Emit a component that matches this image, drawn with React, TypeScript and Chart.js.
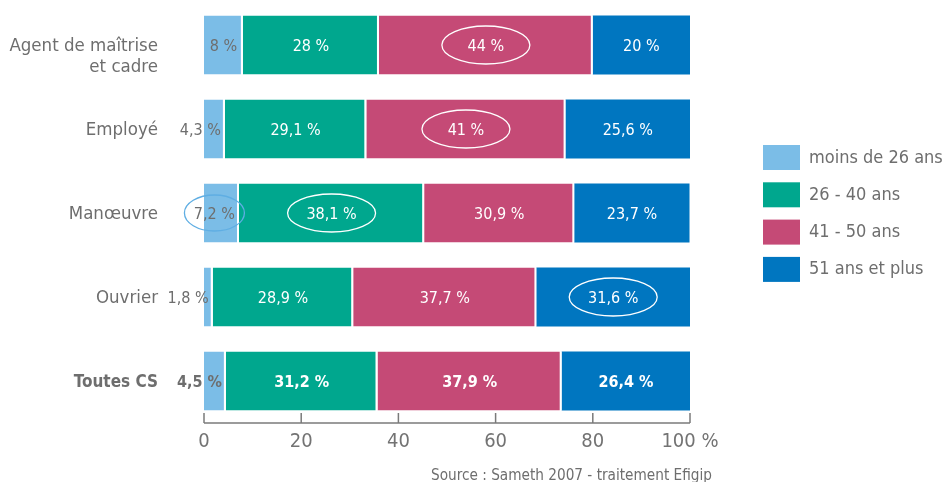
import React, { useEffect, useRef } from "react";
import { Chart, registerables } from "chart.js";
Chart.register(...registerables);

const categories: string[][] = [["Agent de maîtrise", "et cadre"], ["Employé"], ["Manœuvre"], ["Ouvrier"], ["Toutes CS"]];
const seriesNames = ["moins de 26 ans", "26 - 40 ans", "41 - 50 ans", "51 ans et plus"];
const moins26 = [8, 4.3, 7.2, 1.8, 4.5];
const de26a40 = [28, 29.1, 38.1, 28.9, 31.2];
const de41a50 = [44, 41, 30.9, 37.7, 37.9];
const plus51 = [20, 25.6, 23.7, 31.6, 26.4];
const xTicks = [0, 20, 40, 60, 80, 100];
const xTickLabels = ["0", "20", "40", "60", "80", "100 %"];
const highlighted: number[][] = [[0, 2], [1, 2], [2, 0], [2, 1], [3, 3]]; // [row, series]
const boldRow = 4;
const sourceText = "Source : Sameth 2007 - traitement Efigip";
const colors = ["#7BBDE7", "#00A78E", "#C54A76", "#0076C0"];

const FONT = "'DejaVu Sans Condensed', 'DejaVu Sans', sans-serif";
const GRAY = "#6e6e6e";

const fmt = (v: number) => String(v).replace(".", ",") + " %";

const overlay = {
  id: "overlay",
  afterDatasetsDraw(chart: any) {
    const ctx = chart.ctx as CanvasRenderingContext2D;
    const xs = chart.scales.x;
    const ys = chart.scales.y;
    const area = chart.chartArea;
    ctx.save();
    ctx.textBaseline = "alphabetic";
    // segment labels
    chart.data.datasets.forEach((ds: any, di: number) => {
      const meta = chart.getDatasetMeta(di);
      meta.data.forEach((el: any, i: number) => {
        const p = el.getProps(["x", "base", "y", "height"], true);
        const x0 = Math.min(p.x, p.base);
        const x1 = Math.max(p.x, p.base);
        const txt = fmt(ds.data[i]);
        ctx.font = (i === boldRow ? "bold " : "") + "16px " + FONT;
        const w = ctx.measureText(txt).width;
        let cx = (x0 + x1) / 2;
        if (w + 8 > x1 - x0) cx = x1 - 4 - w / 2;
        ctx.fillStyle = di === 0 ? GRAY : "#ffffff";
        ctx.textAlign = "center";
        ctx.fillText(txt, cx, p.y + 5.5);
        if (highlighted.some((h) => h[0] === i && h[1] === di)) {
          ctx.beginPath();
          ctx.ellipse(cx, p.y, di === 0 ? 30 : 44, di === 0 ? 18 : 19, 0, 0, Math.PI * 2);
          ctx.strokeStyle = di === 0 ? "#5FAEE3" : "#ffffff";
          ctx.lineWidth = 1.3;
          ctx.stroke();
        }
      });
    });
    // category labels
    ctx.fillStyle = GRAY;
    ctx.textAlign = "right";
    categories.forEach((lines, i) => {
      const y = ys.getPixelForValue(i);
      ctx.font = i === boldRow ? "bold 17px " + FONT : "18.5px " + FONT;
      lines.forEach((ln, k) => ctx.fillText(ln, 158, y + 6 + k * 21));
    });
    // x axis
    const yAxis = area.bottom;
    ctx.strokeStyle = "#7a7a7a";
    ctx.lineWidth = 1.5;
    ctx.beginPath();
    ctx.moveTo(xs.getPixelForValue(0), yAxis);
    ctx.lineTo(xs.getPixelForValue(100), yAxis);
    ctx.stroke();
    ctx.font = "20px " + FONT;
    ctx.fillStyle = "#737373";
    ctx.textAlign = "center";
    xTicks.forEach((t, k) => {
      const x = xs.getPixelForValue(t);
      ctx.beginPath();
      ctx.moveTo(x, yAxis);
      ctx.lineTo(x, yAxis - 10);
      ctx.stroke();
      ctx.fillText(xTickLabels[k], x, 447);
    });
    // legend
    ctx.textAlign = "left";
    ctx.font = "18px " + FONT;
    seriesNames.forEach((n, k) => {
      const top = 145 + k * 37.3;
      ctx.fillStyle = colors[k];
      ctx.fillRect(763, top, 37, 25);
      ctx.fillStyle = GRAY;
      ctx.fillText(n, 809, top + 17.5);
    });
    // source
    ctx.font = "15.2px " + FONT;
    ctx.fillStyle = GRAY;
    ctx.textAlign = "right";
    ctx.fillText(sourceText, 712, 480);
    ctx.restore();
  },
};

export default function App() {
  const ref = useRef<HTMLCanvasElement>(null);
  useEffect(() => {
    const values = [moins26, de26a40, de41a50, plus51];
    const chart = new Chart(ref.current!, {
      type: "bar",
      data: {
        labels: categories as any,
        datasets: values.map((d, k) => ({
          label: seriesNames[k],
          data: d,
          backgroundColor: colors[k],
          borderColor: "#ffffff",
          borderWidth: { top: 0, bottom: 0, left: 0, right: k < 3 ? 2 : 0 },
          borderSkipped: false,
          barPercentage: 0.7,
          categoryPercentage: 1,
        })),
      },
      options: {
        indexAxis: "y",
        responsive: false,
        animation: false,
        layout: { padding: { left: 204, right: 254, top: 3, bottom: 59 } },
        scales: {
          x: { stacked: true, min: 0, max: 100, display: false },
          y: { stacked: true, display: false },
        },
        plugins: { legend: { display: false }, tooltip: { enabled: false } },
      },
      plugins: [overlay],
    } as any);
    return () => chart.destroy();
  }, []);
  return (
    <div style={{ position: "absolute", left: 0, top: 0, width: 944, height: 482, background: "#fff" }}>
      <canvas ref={ref} width={944} height={482} style={{ display: "block" }} />
    </div>
  );
}
